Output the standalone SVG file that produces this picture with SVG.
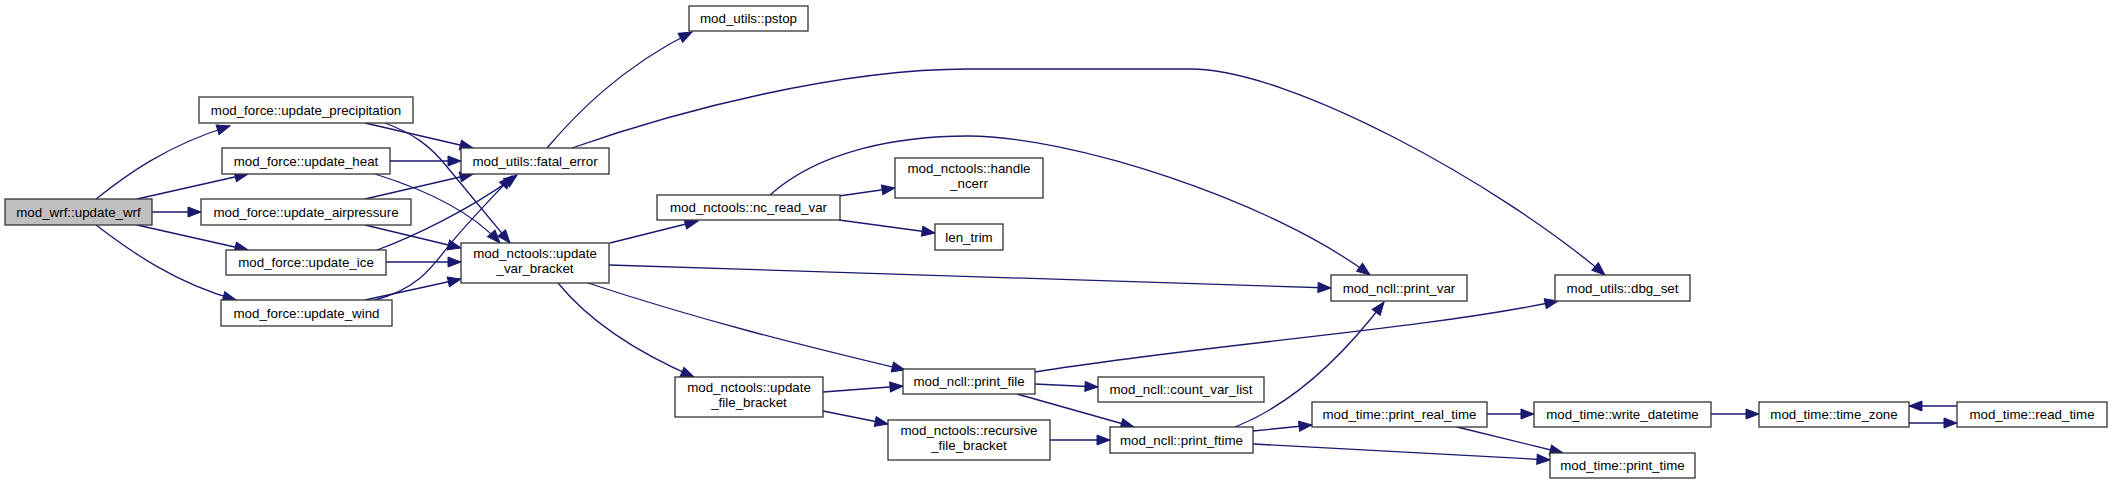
<svg xmlns="http://www.w3.org/2000/svg" width="2112" height="484" viewBox="0 0 2112 484">
<style>
.n rect{fill:#ffffff;stroke:#333333;stroke-width:1.3}
.root rect{fill:#bfbfbf}
.n text{font-family:"Liberation Sans",Arial,sans-serif;font-size:13.33px;fill:#000;text-anchor:middle}
.e path{fill:none;stroke:#191970;stroke-width:1.3;marker-end:url(#ah)}
</style>
<defs>
<marker id="ah" markerUnits="userSpaceOnUse" markerWidth="14" markerHeight="11" refX="13" refY="5" orient="auto" overflow="visible">
<path d="M0,0 L13,5 L0,10 z" fill="#191970" stroke="#191970" stroke-width="1"/>
</marker>
</defs>
<rect width="2112" height="484" fill="#ffffff"/>
<g id="edges" class="e">
<path d="M96,199 C125,176 165,146 230,126"/>
<path d="M137,199 L248,174"/>
<path d="M152,212 L201,212"/>
<path d="M137,225 L248,250"/>
<path d="M96,225 C130,251 175,283 236,300"/>
<path d="M365,123 L473,148"/>
<path d="M385,123 C412,133 430,145 448,168 L510,243"/>
<path d="M390,161 L461,161"/>
<path d="M375,174 C420,188 470,210 500,243"/>
<path d="M365,199 L473,174"/>
<path d="M365,225 L461,248"/>
<path d="M377,250 C410,238 470,210 517,175"/>
<path d="M386,262 L461,262"/>
<path d="M375,300 C415,290 430,270 447,248 C465,225 490,200 512,176"/>
<path d="M365,300 L461,279"/>
<path d="M547,148 C575,115 620,68 692,32"/>
<path d="M572,148 C680,110 840,69 968,69 L1191,69 C1290,69 1500,185 1605,275"/>
<path d="M610,243 L698,221"/>
<path d="M609,265 C900,274 1150,282 1331,288"/>
<path d="M588,283 C700,320 800,345 905,370"/>
<path d="M558,283 C580,310 620,345 694,377"/>
<path d="M839,196 L895,188"/>
<path d="M839,220 L935,233"/>
<path d="M770,195 C820,150 900,136 968,136 C1070,136 1270,200 1370,275"/>
<path d="M823,392 L903,386"/>
<path d="M823,411 L888,424"/>
<path d="M1035,384 L1098,387"/>
<path d="M1017,394 L1134,427"/>
<path d="M1035,372 C1200,345 1420,330 1558,301"/>
<path d="M1050,440 L1110,440"/>
<path d="M1235,427 C1290,405 1340,360 1384,302"/>
<path d="M1253,431 L1312,425"/>
<path d="M1253,444 L1550,460"/>
<path d="M1487,414 L1534,414"/>
<path d="M1457,427 L1563,453"/>
<path d="M1711,414 L1759,414"/>
<path d="M1909,423 L1957,423"/>
<path d="M1957,406 L1909,406"/>
</g>
<g id="update_wrf" class="n root"><rect x="5" y="199" width="147" height="26"/><text x="78.5" y="216.5">mod_wrf::update_wrf</text></g>
<g id="update_precipitation" class="n"><rect x="199" y="97" width="214" height="26"/><text x="306" y="114.5">mod_force::update_precipitation</text></g>
<g id="update_heat" class="n"><rect x="222" y="148" width="168" height="26"/><text x="306" y="165.5">mod_force::update_heat</text></g>
<g id="update_airpressure" class="n"><rect x="201" y="199" width="210" height="26"/><text x="306" y="216.5">mod_force::update_airpressure</text></g>
<g id="update_ice" class="n"><rect x="226" y="250" width="160" height="25"/><text x="306" y="267">mod_force::update_ice</text></g>
<g id="update_wind" class="n"><rect x="221" y="300" width="171" height="26"/><text x="306.5" y="317.5">mod_force::update_wind</text></g>
<g id="fatal_error" class="n"><rect x="461" y="148" width="148" height="26"/><text x="535" y="165.5">mod_utils::fatal_error</text></g>
<g id="update_var_bracket" class="n"><rect x="461" y="243" width="148" height="40"/><text x="535" y="258">mod_nctools::update</text><text x="535" y="272.5">_var_bracket</text></g>
<g id="pstop" class="n"><rect x="689" y="6" width="119" height="25"/><text x="748.5" y="23">mod_utils::pstop</text></g>
<g id="nc_read_var" class="n"><rect x="657" y="195" width="183" height="25"/><text x="748.5" y="212">mod_nctools::nc_read_var</text></g>
<g id="handle_ncerr" class="n"><rect x="895" y="158" width="148" height="40"/><text x="969" y="173">mod_nctools::handle</text><text x="969" y="187.5">_ncerr</text></g>
<g id="len_trim" class="n"><rect x="935" y="224" width="68" height="26"/><text x="969" y="241.5">len_trim</text></g>
<g id="print_var" class="n"><rect x="1331" y="275" width="136" height="26"/><text x="1399" y="292.5">mod_ncll::print_var</text></g>
<g id="dbg_set" class="n"><rect x="1555" y="275" width="135" height="26"/><text x="1622.5" y="292.5">mod_utils::dbg_set</text></g>
<g id="update_file_bracket" class="n"><rect x="675" y="377" width="148" height="40"/><text x="749" y="392">mod_nctools::update</text><text x="749" y="406.5">_file_bracket</text></g>
<g id="print_file" class="n"><rect x="903" y="369" width="132" height="25"/><text x="969" y="386">mod_ncll::print_file</text></g>
<g id="recursive_file_bracket" class="n"><rect x="888" y="420" width="162" height="40"/><text x="969" y="435">mod_nctools::recursive</text><text x="969" y="449.5">_file_bracket</text></g>
<g id="count_var_list" class="n"><rect x="1098" y="377" width="166" height="25"/><text x="1181" y="394">mod_ncll::count_var_list</text></g>
<g id="print_ftime" class="n"><rect x="1110" y="427" width="143" height="26"/><text x="1181.5" y="444.5">mod_ncll::print_ftime</text></g>
<g id="print_real_time" class="n"><rect x="1312" y="402" width="175" height="25"/><text x="1399.5" y="419">mod_time::print_real_time</text></g>
<g id="write_datetime" class="n"><rect x="1534" y="402" width="177" height="25"/><text x="1622.5" y="419">mod_time::write_datetime</text></g>
<g id="time_zone" class="n"><rect x="1759" y="402" width="150" height="25"/><text x="1834" y="419">mod_time::time_zone</text></g>
<g id="read_time" class="n"><rect x="1957" y="402" width="150" height="25"/><text x="2032" y="419">mod_time::read_time</text></g>
<g id="print_time" class="n"><rect x="1550" y="453" width="145" height="25"/><text x="1622.5" y="470">mod_time::print_time</text></g>
</svg>
